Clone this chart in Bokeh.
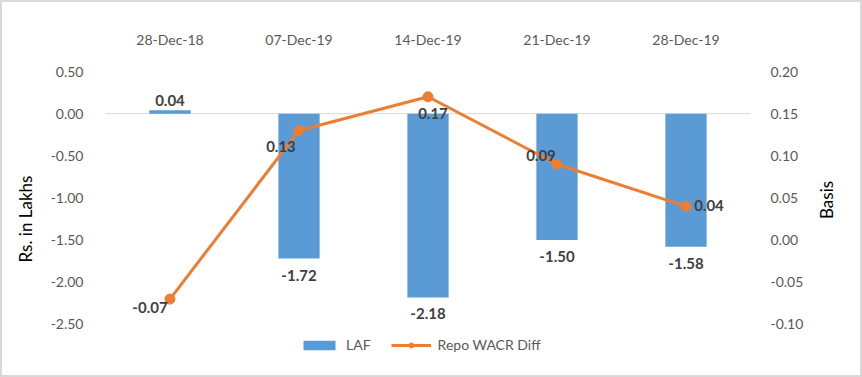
import math
from bokeh.plotting import figure
from bokeh.models import (ColumnDataSource, Range1d, LinearAxis, Span, Legend, LegendItem,
                          FixedTicker, NumeralTickFormatter, LabelSet)
from bokeh.core.properties import value
from bokeh.embed import file_html
from bokeh.resources import INLINE

categories = ["28-Dec-18", "07-Dec-19", "14-Dec-19", "21-Dec-19", "28-Dec-19"]
laf = [0.04, -1.72, -2.18, -1.50, -1.58]
repo_wacr_diff = [-0.07, 0.13, 0.17, 0.09, 0.04]
left_ticks = [-2.5, -2.0, -1.5, -1.0, -0.5, 0.0, 0.5]
right_ticks = [-0.10, -0.05, 0.0, 0.05, 0.10, 0.15, 0.20]

# label offsets (styling, pixels)
line_lbl_dx = [-20, -18, 5, -16, 23]
line_lbl_dy = [-8, -16, -17, 9, 1]

FONT = "Lato"
BLUE = "#5B9BD5"
ORANGE = "#ED7D31"

bar_lbl_text = ["%.2f" % v for v in laf]
bar_lbl_base = ["bottom" if v >= 0 else "top" for v in laf]
bar_lbl_dy = [4 if v >= 0 else -11 for v in laf]
line_lbl_text = ["%.2f" % v for v in repo_wacr_diff]

src = ColumnDataSource(dict(cat=categories, laf=laf, rw=repo_wacr_diff,
                            bt=bar_lbl_text, bb=bar_lbl_base, bdy=bar_lbl_dy,
                            lt=line_lbl_text, ldx=line_lbl_dx, ldy=line_lbl_dy))

# frame extended below the value axis to host the legend
p = figure(x_range=categories, y_range=Range1d(-3.0, 0.5), width=862, height=377,
           output_backend="svg", toolbar_location=None, x_axis_location="above",
           min_border_left=103, min_border_right=114, min_border_top=69, min_border_bottom=13)
p.styles = {"border": "2px solid #d9d9d9", "box-sizing": "border-box"}
p.outline_line_color = None
p.xgrid.grid_line_color = None
p.ygrid.grid_line_color = None
p.extra_y_ranges = {"right": Range1d(-0.15, 0.20)}

ya = p.yaxis[0]
ya.ticker = FixedTicker(ticks=left_ticks)
ya.formatter = NumeralTickFormatter(format="0.00")
ya.axis_label = "Rs. in Lakhs"

ra = LinearAxis(y_range_name="right", ticker=FixedTicker(ticks=right_ticks),
                formatter=NumeralTickFormatter(format="0.00"), axis_label="Basis")
p.add_layout(ra, "right")

for ax in [ya, ra]:
    ax.axis_line_color = None
    ax.major_tick_line_color = None
    ax.minor_tick_line_color = None
    ax.major_label_text_font = FONT
    ax.major_label_text_font_size = "14px"
    ax.major_label_text_color = "#595959"
    ax.major_label_standoff = 16
    ax.axis_label_text_font = FONT
    ax.axis_label_text_font_size = "17px"
    ax.axis_label_text_font_style = "normal"
    ax.axis_label_text_color = "#000000"
    ax.axis_label_standoff = 10
ya.axis_label_standoff = 12
ra.major_label_standoff = 14
ra.axis_label_orientation = math.pi / 2
ra.axis_label_standoff = 20

xa = p.xaxis[0]
xa.axis_line_color = None
xa.major_tick_line_color = None
xa.minor_tick_line_color = None
xa.major_label_text_font = FONT
xa.major_label_text_font_size = "14px"
xa.major_label_text_color = "#595959"
xa.major_label_standoff = 18

p.add_layout(Span(location=0, dimension="width", line_color="#d9d9d9", line_width=1,
                  level="underlay"))

bars = p.vbar(x="cat", top="laf", bottom=0, width=0.32, source=src, fill_color=BLUE, line_color=None)
ln = p.line(x="cat", y="rw", source=src, y_range_name="right", line_color=ORANGE, line_width=3)
mk = p.scatter(x="cat", y="rw", source=src, y_range_name="right", size=10,
               fill_color=ORANGE, line_color=ORANGE)

p.add_layout(LabelSet(x="cat", y="laf", text="bt", source=src, text_align="center",
                      text_baseline="bb", y_offset="bdy", text_font=value(FONT),
                      text_font_size="15px", text_font_style="bold", text_color="#404040"))
p.add_layout(LabelSet(x="cat", y="rw", text="lt", source=src, y_range_name="right",
                      text_align="center", text_baseline="middle", x_offset="ldx",
                      y_offset="ldy", text_font=value(FONT), text_font_size="15px",
                      text_font_style="bold", text_color="#404040"))

legend = Legend(items=[LegendItem(label="LAF", renderers=[bars]),
                       LegendItem(label="Repo WACR Diff", renderers=[ln, mk])],
                orientation="horizontal", location=(194, 13), border_line_color=None,
                background_fill_alpha=0, label_text_font=FONT, label_text_font_size="14px",
                label_text_color="#595959", glyph_width=40, glyph_height=12,
                spacing=20, padding=4, margin=0, label_standoff=7)
p.add_layout(legend, "center")

open("out.html", "w").write(file_html(p, INLINE))
